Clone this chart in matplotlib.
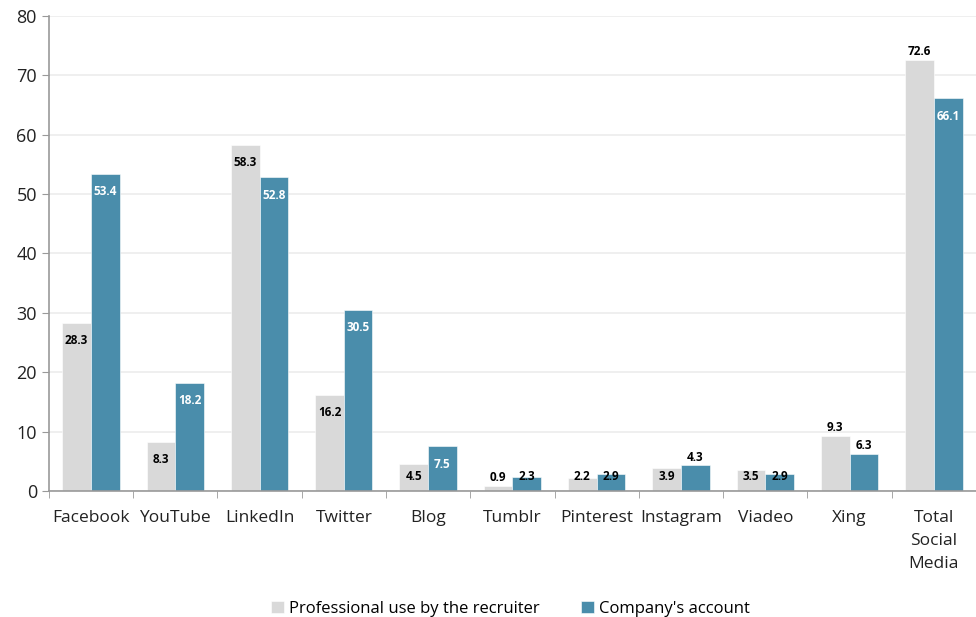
import matplotlib.pyplot as plt
import numpy as np

plt.rcParams['font.family'] = ['Open Sans', 'DejaVu Sans']

categories = ["Facebook", "YouTube", "LinkedIn", "Twitter", "Blog", "Tumblr",
              "Pinterest", "Instagram", "Viadeo", "Xing", "Total\nSocial\nMedia"]
recruiter = [28.3, 8.3, 58.3, 16.2, 4.5, 0.9, 2.2, 3.9, 3.5, 9.3, 72.6]
company = [53.4, 18.2, 52.8, 30.5, 7.5, 2.3, 2.9, 4.3, 2.9, 6.3, 66.1]
# where Excel put each value label: inside the bar or just above it
recruiter_place = ["in", "in", "in", "in", "in", "out", "in", "in", "in", "out", "out"]
company_place = ["in", "in", "in", "in", "in", "in", "in", "out", "in", "out", "in"]

gray = "#d9d9d9"
blue = "#4a8dab"

fig = plt.figure(figsize=(9.76, 6.17), dpi=100)
ax = fig.add_axes([0.050, 0.2042, 0.950, 0.770])

x = np.arange(len(categories))
w = 0.34
b1 = ax.bar(x - w / 2, recruiter, w, color=gray, edgecolor="white", linewidth=0.4,
            label="Professional use by the recruiter", zorder=2)
b2 = ax.bar(x + w / 2, company, w, color=blue, edgecolor="white", linewidth=0.4,
            label="Company's account", zorder=2)


def put_labels(xs, vals, places, inside_color):
    for xi, v, p in zip(xs, vals, places):
        if p == "in":
            y = v - 3.0
            c = inside_color
            if y < 2.5:
                # too short: Excel lifts the label, drawn in black
                y = 2.5
                c = "black"
        else:
            y = v + 1.4
            c = "black"
        ax.text(xi, y, f"{v}", ha="center", va="center", fontsize=8.5,
                fontweight="bold", color=c, zorder=3)


put_labels(x - w / 2, recruiter, recruiter_place, "black")
put_labels(x + w / 2, company, company_place, "white")

ax.set_xlim(-0.5, len(categories) - 0.5)
ax.set_ylim(0, 80)
ax.set_yticks(range(0, 81, 10))
ax.yaxis.grid(True, color="#ececec", linewidth=1.2, zorder=0)
ax.set_axisbelow(True)

ax.set_xticks(x)
ax.set_xticklabels(categories, fontsize=12.5, color="#222222", linespacing=1.55)
ax.set_xticks(np.arange(-0.5, len(categories)), minor=True)
ax.tick_params(axis="x", which="major", length=0, pad=14)
ax.tick_params(axis="x", which="minor", length=5, color="#999999")
ax.tick_params(axis="y", length=5, color="#999999", labelsize=13, labelcolor="#222222")

for s in ["top", "right"]:
    ax.spines[s].set_visible(False)
ax.spines["left"].set_color("#999999")
ax.spines["bottom"].set_color("#999999")
ax.spines["left"].set_linewidth(1.2)
ax.spines["bottom"].set_linewidth(1.2)

fig.legend(handles=[b1, b2], loc="lower center", bbox_to_anchor=(0.523, -0.024), ncol=2,
           frameon=False, fontsize=12, handlelength=0.8, handleheight=0.8,
           handletextpad=0.3, columnspacing=2.5)

fig.savefig("out.png", dpi=100)
